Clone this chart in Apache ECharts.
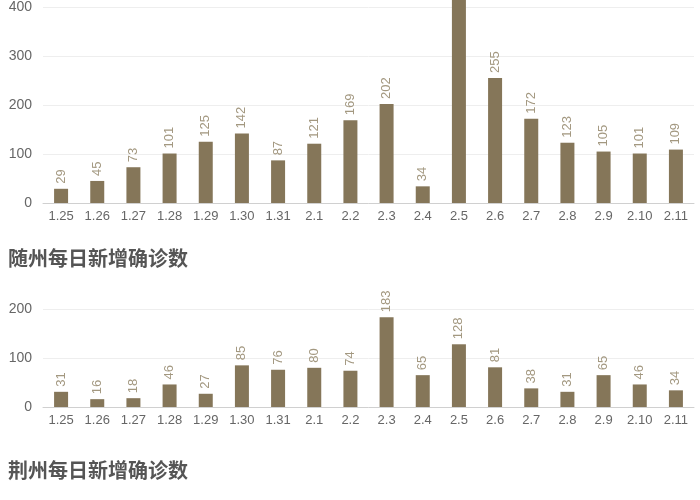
<!DOCTYPE html>
<html>
<head>
    <meta charset="utf-8"/>
    <title>每日新增确诊数</title>
    <script src="https://cdn.jsdelivr.net/npm/echarts@6/dist/echarts.min.js"></script>
    <style>
        html, body {
            margin: 0;
            padding: 0;
            background: #fff;
            overflow: hidden;
        }
        /* 页面向下滚动了一段, 上一张图的顶部在窗口之外 */
        #chart {
            position: absolute;
            left: 0;
            top: -50px;
            width: 700px;
            height: 550px;
        }
    </style>
</head>
<body>
<div id="chart"></div>
<script type="text/javascript">
    // 日期
    let dates = ['1.25', '1.26', '1.27', '1.28', '1.29', '1.30', '1.31',
        '2.1', '2.2', '2.3', '2.4', '2.5', '2.6', '2.7', '2.8', '2.9', '2.10', '2.11'];
    // 上一张图 (标题在画面之外)
    let topValues = [29, 45, 73, 101, 125, 142, 87, 121, 169, 202, 34, 477, 255, 172, 123, 105, 101, 109];
    // 随州
    let suizhouValues = [31, 16, 18, 46, 27, 85, 76, 80, 74, 183, 65, 128, 81, 38, 31, 65, 46, 34];

    let barColor = '#857659';
    let labelColor = '#a39880';
    let fontFamily = '"Liberation Sans", Arial, sans-serif';
    let titleFont = '"Noto Sans CJK SC", sans-serif';
    let offset = 50;

    let makeXAxis = function (gridIndex) {
        return {
            type: 'category',
            gridIndex: gridIndex,
            data: dates,
            axisTick: {show: false},
            axisLine: {lineStyle: {color: '#d0d0d0'}},
            axisLabel: {color: '#666', fontSize: 13, margin: 7, fontFamily: fontFamily, interval: 0}
        };
    };
    let makeYAxis = function (gridIndex, max) {
        return {
            type: 'value',
            gridIndex: gridIndex,
            min: 0,
            max: max,
            interval: 100,
            axisLine: {show: false},
            axisTick: {show: false},
            splitLine: {lineStyle: {color: '#eeeeee'}},
            axisLabel: {color: '#666', fontSize: 14, margin: 11, fontFamily: fontFamily}
        };
    };
    let makeSeries = function (index, values) {
        return {
            type: 'bar',
            xAxisIndex: index,
            yAxisIndex: index,
            data: values,
            barWidth: 14,
            itemStyle: {color: barColor},
            label: {
                show: true,
                position: 'top',
                rotate: 90,
                align: 'left',
                verticalAlign: 'middle',
                distance: 5,
                color: labelColor,
                fontSize: 13,
                fontFamily: fontFamily
            }
        };
    };

    let chart = echarts.init(document.getElementById('chart'));
    chart.setOption({
        animation: false,
        title: [
            {
                text: '随州每日新增确诊数',
                left: 3,
                top: 243 + offset,
                textStyle: {color: '#555', fontSize: 20, fontWeight: 'bold', fontFamily: titleFont}
            },
            {
                text: '荆州每日新增确诊数',
                left: 3,
                top: 455 + offset,
                textStyle: {color: '#555', fontSize: 20, fontWeight: 'bold', fontFamily: titleFont}
            }
        ],
        grid: [
            {left: 43, right: 6, top: -42 + offset, height: 245},
            {left: 43, right: 6, top: 309 + offset, height: 98}
        ],
        xAxis: [makeXAxis(0), makeXAxis(1)],
        yAxis: [makeYAxis(0, 500), makeYAxis(1, 200)],
        series: [makeSeries(0, topValues), makeSeries(1, suizhouValues)]
    });
</script>
</body>
</html>
